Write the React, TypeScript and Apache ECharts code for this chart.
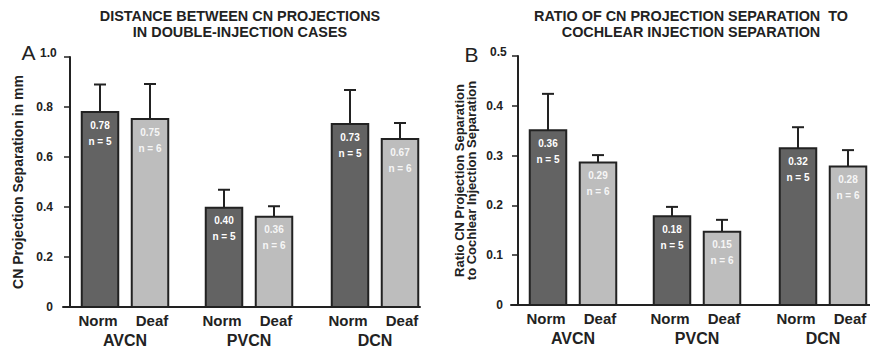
import React, { useEffect, useRef } from "react";
import * as echarts from "echarts";

// ---- data ----
const groups = ["AVCN", "PVCN", "DCN"];
const conditions = ["Norm", "Deaf"];
const groupCenters = [1.1, 3.58, 6.1];
const conditionOffsets = [-0.5, 0.5];
const nCounts = [5, 6, 5, 6, 5, 6];

// Panel A: distance between CN projections (mm)
const distMeans = [0.78, 0.752, 0.397, 0.361, 0.732, 0.672];
const distSem = [0.11, 0.14, 0.072, 0.042, 0.136, 0.064];
const distLabels = ["0.78", "0.75", "0.40", "0.36", "0.73", "0.67"];

// Panel B: ratio of CN projection separation to cochlear injection separation
const ratioMeans = [0.351, 0.286, 0.178, 0.147, 0.315, 0.278];
const ratioSem = [0.073, 0.015, 0.019, 0.024, 0.042, 0.033];
const ratioLabels = ["0.36", "0.29", "0.18", "0.15", "0.32", "0.28"];

const titleA = ["DISTANCE BETWEEN CN PROJECTIONS", "IN DOUBLE-INJECTION CASES"];
const titleB = ["RATIO OF CN PROJECTION SEPARATION  TO", "COCHLEAR INJECTION SEPARATION"];
const yNameA = "CN Projection Separation in mm";
const yNameB = ["Ratio CN Projection Separation", "to Cochlear Injection Separation"];

const FONT = "'Liberation Sans', Arial, Helvetica, sans-serif";
const INK = "#222";
const fills = ["#636363", "#bdbdbd"];
const textFills = ["#ffffff", "#f6f6f6"];

function barData(means: number[], sem: number[]) {
  const out: number[][] = [];
  groups.forEach((_, g) => {
    conditions.forEach((__, c) => {
      const i = g * 2 + c;
      out.push([groupCenters[g] + conditionOffsets[c], means[i], sem[i], i, c]);
    });
  });
  return out;
}

const txt = (text: string, tx: number, ty: number, size: number, fill: string) => ({
  type: "text",
  x: tx,
  y: ty,
  style: {
    text,
    fill,
    font: `bold ${size}px ${FONT}`,
    align: "center",
    verticalAlign: "middle",
    textAlign: "center",
    textVerticalAlign: "middle",
  },
});

function makeBarSeries(gridIdx: number, means: number[], sem: number[], labels: string[]) {
  return {
    type: "custom",
    xAxisIndex: gridIdx,
    yAxisIndex: gridIdx,
    clip: false,
    data: barData(means, sem),
    renderItem: (params: any, api: any) => {
      const x = api.value(0);
      const y = api.value(1);
      const e = api.value(2);
      const i = api.value(3);
      const c = api.value(4);
      const base = api.coord([x, 0]);
      const top = api.coord([x, y]);
      const errTop = api.coord([x, y + e]);
      const w = api.size([0.73, 0])[0];
      return {
        type: "group",
        children: [
          {
            type: "line",
            shape: { x1: top[0], y1: top[1], x2: errTop[0], y2: errTop[1] },
            style: { stroke: INK, lineWidth: 2 },
          },
          {
            type: "line",
            shape: { x1: errTop[0] - 6, y1: errTop[1], x2: errTop[0] + 6, y2: errTop[1] },
            style: { stroke: INK, lineWidth: 2 },
          },
          {
            type: "rect",
            shape: { x: base[0] - w / 2, y: top[1], width: w, height: base[1] - top[1] },
            style: { fill: fills[c], stroke: INK, lineWidth: 2 },
          },
          txt(labels[i], top[0], top[1] + 13, 10, textFills[c]),
          txt("n = " + nCounts[i], top[0], top[1] + 29, 10, textFills[c]),
          txt(conditions[c], base[0] - (c === 0 ? 2 : -2), base[1] + 13, 15, INK),
        ],
      };
    },
  };
}

function makeGroupSeries(gridIdx: number) {
  return {
    type: "custom",
    xAxisIndex: gridIdx,
    yAxisIndex: gridIdx,
    clip: false,
    data: groups.map((_, g) => [groupCenters[g], 0, g]),
    renderItem: (params: any, api: any) => {
      const p = api.coord([api.value(0), 0]);
      return txt(groups[api.value(2)], p[0], p[1] + 33, 16, INK);
    },
  };
}

function yAxisCfg(
  gridIdx: number,
  max: number,
  interval: number,
  name: string,
  nameGap: number,
  fontSize: number,
  lineHeight: number,
  margin: number
) {
  return {
    type: "value",
    gridIndex: gridIdx,
    min: 0,
    max,
    interval,
    name,
    nameLocation: "middle",
    nameGap,
    nameTextStyle: {
      color: INK,
      fontSize,
      fontWeight: "bold",
      fontFamily: FONT,
      lineHeight,
    },
    axisLine: { show: true, onZero: true, lineStyle: { color: INK, width: 2 } },
    axisTick: { show: true, length: 6, lineStyle: { color: INK, width: 1.5 } },
    axisLabel: {
      color: INK,
      fontSize: 12,
      fontWeight: "bold",
      fontFamily: FONT,
      margin,
      formatter: (v: number) => {
        const s = v === 0 ? "0" : v.toFixed(1);
        return Math.abs(v - max) < 1e-9 ? `{top|${s}}` : s;
      },
      rich: {
        top: {
          color: INK,
          fontSize: 12,
          fontWeight: "bold",
          fontFamily: FONT,
          width: 13,
          align: "left",
          padding: [0, 0, 9, 0],
        },
      },
    },
    splitLine: { show: false },
  };
}

function xAxisCfg(gridIdx: number, max: number) {
  return {
    type: "value",
    gridIndex: gridIdx,
    min: -0.14,
    max,
    axisLine: { show: true, onZero: true, lineStyle: { color: INK, width: 2 } },
    axisTick: { show: false },
    axisLabel: { show: false },
    splitLine: { show: false },
  };
}

function titleText(lines: string[], cx: number) {
  return {
    type: "text",
    x: cx,
    y: 8,
    style: {
      text: lines.join("\n"),
      fill: INK,
      font: `bold 14.4px ${FONT}`,
      lineHeight: 16,
      textAlign: "center",
      textVerticalAlign: "top",
      align: "center",
      verticalAlign: "top",
    },
  };
}

function panelLetter(letter: string, cx: number, cy: number) {
  return {
    type: "text",
    x: cx,
    y: cy,
    style: {
      text: letter,
      fill: INK,
      font: `normal 21px ${FONT}`,
      textAlign: "center",
      textVerticalAlign: "middle",
      align: "center",
      verticalAlign: "middle",
    },
  };
}

export default function App() {
  const ref = useRef<HTMLDivElement>(null);
  useEffect(() => {
    if (!ref.current) return;
    const chart = echarts.init(ref.current, undefined, { renderer: "svg" });
    chart.setOption({
      animation: false,
      backgroundColor: "#ffffff",
      grid: [
        { left: 63, top: 57, width: 357, height: 250 },
        { left: 511, top: 56, width: 359, height: 249 },
      ],
      xAxis: [xAxisCfg(0, 7), xAxisCfg(1, 7.04)],
      yAxis: [
        yAxisCfg(0, 1, 0.2, yNameA, 38, 14, 14, 10),
        yAxisCfg(1, 0.5, 0.1, yNameB.join("\n"), 34, 13, 11.5, 8),
      ],
      graphic: [
        titleText(titleA, 240),
        titleText(titleB, 691),
        panelLetter("A", 28.5, 52),
        panelLetter("B", 471.5, 54),
      ],
      series: [
        makeBarSeries(0, distMeans, distSem, distLabels),
        makeGroupSeries(0),
        makeBarSeries(1, ratioMeans, ratioSem, ratioLabels),
        makeGroupSeries(1),
      ],
    });
    return () => chart.dispose();
  }, []);
  return (
    <div
      ref={ref}
      style={{ position: "fixed", left: 0, top: 0, width: 870, height: 350, background: "#fff" }}
    />
  );
}
